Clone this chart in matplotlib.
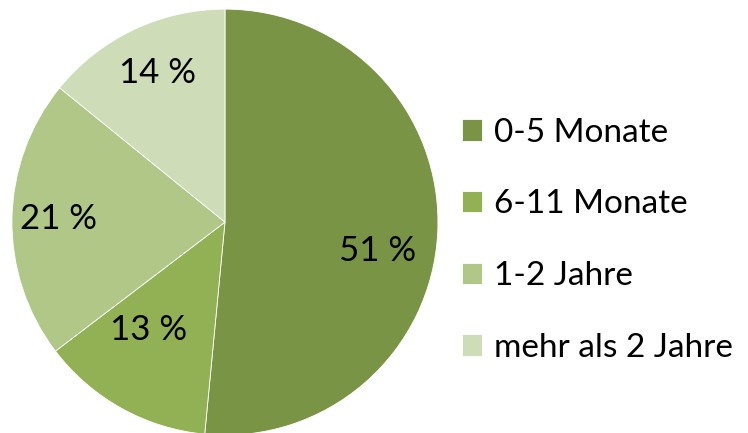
import matplotlib.pyplot as plt
import numpy as np

labels = ['0-5 Monate', '6-11 Monate', '1-2 Jahre', 'mehr als 2 Jahre']
values = [51, 13, 21, 14]
colors = ['#7A9445', '#92B054', '#B0C788', '#CFDCB8']

# label placement (like Excel "best fit"): radius fraction, angle shift in degrees
label_dist = [0.73, 0.62, 0.78, 0.77]
label_shift = [-8, -6, 0, -1]

plt.rcParams['font.family'] = ['Lato', 'DejaVu Sans']

fig = plt.figure(figsize=(7.48, 4.33), dpi=100)
ax = fig.add_axes([0.016, -0.005, 0.5695, 0.984])

wedges, texts = ax.pie(values, colors=colors, startangle=90, counterclock=False,
                       wedgeprops=dict(edgecolor='white', linewidth=0.6))
ax.set_aspect('equal')
ax.set_xlim(-1, 1)
ax.set_ylim(-1, 1)

for w, v, d, s in zip(wedges, values, label_dist, label_shift):
    ang = np.deg2rad((w.theta1 + w.theta2) / 2 + s)
    ax.text(d * np.cos(ang), d * np.sin(ang), f'{v} %', ha='center', va='center',
            fontsize=25, color='black')

fig.legend(wedges, labels, loc='center left', bbox_to_anchor=(0.578, 0.445),
           frameon=False, fontsize=24, handlelength=0.6, handleheight=0.6,
           handletextpad=0.35, labelspacing=1.25)

plt.savefig('out.png', dpi=100)
